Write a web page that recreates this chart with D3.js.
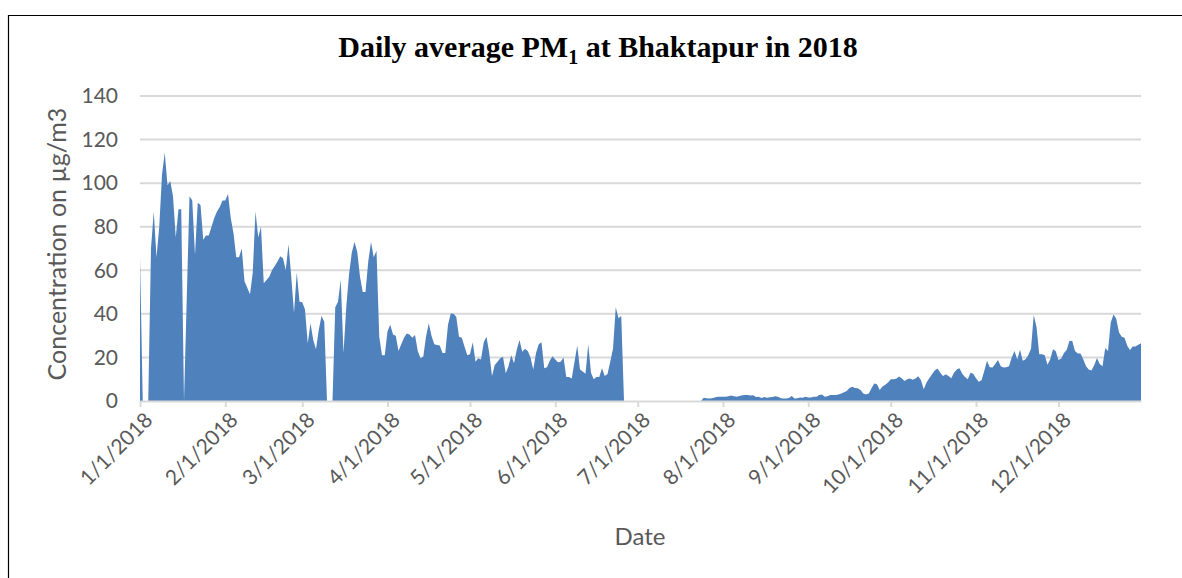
<!DOCTYPE html>
<html>
<head>
<meta charset="utf-8">
<script src="https://cdn.jsdelivr.net/npm/d3@7"></script>
<style>
  body { margin: 0; background: #fff; }
  svg { display: block; }
</style>
</head>
<body>
<svg id="chart" width="1182" height="578"></svg>
<script>
// daily average PM1 (µg/m3), one array per month
const jan = [66, 0, 0, 0, 70, 87, 66, 80, 104, 114, 99, 101, 94, 75, 88, 88, 0, 47, 94, 92, 67, 91, 90, 74, 76, 76, 80, 84, 87, 89, 92];
const feb = [92, 95, 84, 77, 66, 66, 70, 55, 52, 49, 59, 87, 75, 80, 54, 55.5, 57, 60, 62, 64, 66.5, 65.5, 60, 72, 57, 40.5, 59, 45.6];
const mar = [45.3, 42, 26.5, 35.7, 28, 23.7, 32.6, 39, 36.4, 0, 0, 0, 43, 45.6, 55.5, 22, 43, 58, 68, 73, 68.5, 57, 50, 50, 64, 73, 66, 69, 29.5, 21, 21];
const apr = [32, 35, 30.5, 30, 23, 26, 29, 31, 30.5, 29, 30.3, 23, 19.6, 20.3, 29.5, 35.7, 30, 26, 25.7, 25.5, 22, 22, 35, 40.2, 40, 38.7, 29.5, 29, 25, 21];
const may = [21.5, 27, 18, 19.6, 19, 27, 29.5, 21.9, 11.5, 16.5, 18, 19.6, 20.3, 12.7, 16, 21, 17.3, 23.5, 28, 22.6, 24, 23, 20, 14.5, 22, 26, 27, 15, 15.5, 18.5, 20.5];
const jun = [19, 17.8, 18, 20, 11, 11, 10.3, 18, 25.5, 14.5, 13.5, 12.5, 26, 13, 10, 11, 11, 15, 11.5, 12.4, 18, 24, 43, 38, 39, 0, 0, 0, 0, 0];
const jul = [0, 0, 0, 0, 0, 0, 0, 0, 0, 0, 0, 0, 0, 0, 0, 0, 0, 0, 0, 0, 0, 0, 0, 0, 1.5, 1.3, 1.2, 1.3, 1.6, 2.0, 2.0];
const aug = [1.9, 2.0, 2.2, 2.5, 2.2, 2.0, 2.3, 2.6, 2.8, 2.7, 2.5, 2.6, 1.8, 2.0, 1.4, 1.8, 1.5, 1.7, 1.8, 2.2, 2.0, 1.3, 1.1, 1.2, 1.4, 2.3, 1.1, 1.3, 1.6, 1.5, 2.0];
const sep = [1.6, 1.6, 2.0, 2.0, 2.8, 3.0, 2.0, 2.2, 2.8, 2.7, 2.7, 3.0, 3.4, 4, 4.6, 6, 6.5, 6, 5.8, 5, 3.5, 3, 3.5, 5.8, 8, 7.7, 5, 6.6, 7.5, 8.5];
const oct = [10, 10, 10.2, 11.2, 10.5, 9.2, 10, 10.3, 9.8, 10.3, 11.4, 9.5, 5.4, 8.5, 10.5, 12.3, 14, 14.9, 13, 11.5, 12.3, 11.5, 10.5, 13, 14.5, 15, 12.5, 11, 10, 13, 12.5];
const nov = [10.5, 8.8, 9.5, 13.8, 18.5, 15.5, 15.4, 17, 18.8, 16, 15.4, 15.5, 16, 20, 23, 19, 23.5, 18.5, 19.2, 21, 24, 39.5, 34, 21.5, 21.5, 21, 16.6, 19.2, 23.8, 22.8];
const dec = [18.8, 19.5, 22, 23.5, 27.7, 27.5, 23, 21.8, 21.8, 19.2, 16, 14.5, 14, 16.5, 19.7, 17, 16, 24.3, 23, 36, 39.7, 37.7, 31.5, 29.5, 29, 25.4, 23.4, 25, 25, 25.8, 26.5];

const yTicks = [0, 20, 40, 60, 80, 100, 120, 140];
const monthTicks = ["2018-01-01", "2018-02-01", "2018-03-01", "2018-04-01", "2018-05-01", "2018-06-01",
                    "2018-07-01", "2018-08-01", "2018-09-01", "2018-10-01", "2018-11-01", "2018-12-01"];

const values = [].concat(jan, feb, mar, apr, may, jun, jul, aug, sep, oct, nov, dec);
const data = values.map((v, i) => ({ date: new Date(2018, 0, 1 + i), value: v }));

const size = {
    width: 1182,
    height: 578,
    margin: { top: 96, right: 41, bottom: 177, left: 140 }
};
const svg = d3.select('#chart');
const textColor = "#595959";
const font = "Lato, 'Open Sans', sans-serif";

// chart frame (top and left edges visible)
svg.append("path")
    .attr("d", "M8.5,578 V15.5 H1182")
    .attr("fill", "none")
    .attr("stroke", "#000")
    .attr("stroke-width", 1.2);

const x = d3.scaleTime()
    .domain([new Date(2018, 0, 1), new Date(2018, 11, 31)])
    .range([size.margin.left, size.width - size.margin.right]);

const y = d3.scaleLinear()
    .domain([0, 140])
    .range([size.height - size.margin.bottom, size.margin.top]);

// gridlines
svg.append("g")
    .selectAll("line")
    .data(yTicks.filter(d => d > 0))
    .join("line")
    .attr("x1", size.margin.left)
    .attr("x2", size.width - size.margin.right)
    .attr("y1", d => y(d))
    .attr("y2", d => y(d))
    .attr("stroke", "#d9d9d9")
    .attr("stroke-width", 2);

// area
const area = d3.area()
    .x(d => x(d.date))
    .y0(y(0))
    .y1(d => y(d.value));

svg.append("path")
    .datum(data)
    .attr("d", area)
    .attr("fill", "#4f81bd");

// y axis labels
const yAxis = svg.append("g")
    .attr("transform", `translate(${size.margin.left - 22}, 0)`)
    .call(d3.axisLeft(y).tickValues(yTicks).tickSize(0).tickPadding(0));
yAxis.select(".domain").remove();
yAxis.selectAll("text")
    .attr("fill", textColor)
    .style("font-family", font)
    .style("font-size", "21px");

// x axis
const xAxis = svg.append("g")
    .attr("transform", `translate(0, ${y(0)})`)
    .call(d3.axisBottom(x)
        .tickValues(monthTicks.map(d => d3.timeParse("%Y-%m-%d")(d)))
        .tickFormat(d3.timeFormat("%-m/%-d/%Y"))
        .tickSize(6)
        .tickSizeOuter(0));
xAxis.select(".domain").attr("stroke", "#d9d9d9").attr("stroke-width", 2);
xAxis.selectAll(".tick line").attr("stroke", "#d9d9d9").attr("stroke-width", 2);
xAxis.selectAll("text")
    .attr("fill", textColor)
    .style("font-family", font)
    .style("font-size", "21px")
    .style("text-anchor", "end")
    .attr("dx", "0")
    .attr("dy", "0")
    .attr("transform", "translate(7, 14) rotate(-45)");

// title
const title = svg.append("text")
    .attr("x", 598)
    .attr("y", 57)
    .attr("text-anchor", "middle")
    .attr("fill", "#000")
    .style("font-family", "'Liberation Serif', 'DejaVu Serif', serif")
    .style("font-weight", "bold")
    .style("font-size", "30px");
title.append("tspan").text("Daily average PM");
title.append("tspan").attr("dy", 7).style("font-size", "20px").text("1");
title.append("tspan").attr("dy", -7).text(" at Bhaktapur in 2018");

// axis titles
svg.append("text")
    .attr("transform", "rotate(-90)")
    .attr("x", -244)
    .attr("y", 66)
    .attr("text-anchor", "middle")
    .attr("fill", textColor)
    .style("font-family", font)
    .style("font-size", "25px")
    .text("Concentration on µg/m3");

svg.append("text")
    .attr("x", 640)
    .attr("y", 545)
    .attr("text-anchor", "middle")
    .attr("fill", textColor)
    .style("font-family", font)
    .style("font-size", "24px")
    .text("Date");
</script>
</body>
</html>
